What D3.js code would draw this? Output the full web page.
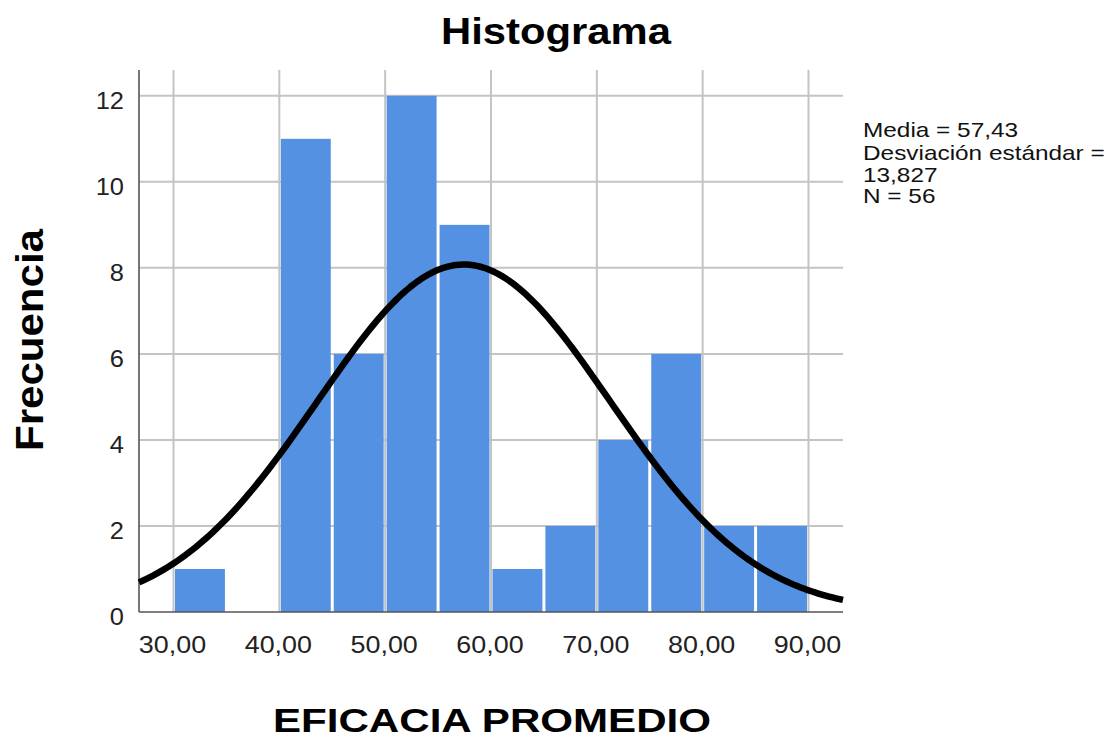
<!DOCTYPE html>
<html>
<head>
<meta charset="utf-8">
<script src="https://cdn.jsdelivr.net/npm/d3@7"></script>
<style>
  html, body { margin: 0; padding: 0; background: #fff; }
  svg { display: block; font-family: "Liberation Sans", Arial, sans-serif; }
</style>
</head>
<body>
<svg id="chart" width="1117" height="740"></svg>
<script>
// Histogram of EFICACIA PROMEDIO with fitted normal curve
const binEdges = [30, 35, 40, 45, 50, 55, 60, 65, 70, 75, 80, 85, 90];
const frequencies = [1, 0, 11, 6, 12, 9, 1, 2, 4, 6, 2, 2];
const xTicks = [30, 40, 50, 60, 70, 80, 90];
const yTicks = [0, 2, 4, 6, 8, 10, 12];
const mean = 57.43;
const stdDev = 13.827;
const count = 56;
const legendLines = ["Media = 57,43", "Desviación estándar =", "13,827", "N = 56"];

const bins = frequencies.map((f, i) => ({ x0: binEdges[i], x1: binEdges[i + 1], f }));
const binWidth = binEdges[1] - binEdges[0];

const svg = d3.select("#chart");
const plotLeft = 139, plotRight = 843, plotTop = 70, plotBottom = 612;

const x = d3.scaleLinear().domain([26.74, 93.26]).range([plotLeft, plotRight]);
const y = d3.scaleLinear().domain([0, 12.6]).range([plotBottom, plotTop]);

const es = d3.formatLocale({ decimal: ",", thousands: ".", grouping: [3], currency: ["", "€"] });
const fmt2 = es.format(".2f");

// widen glyphs horizontally to the chart's text proportions
function widen(sel, factor) {
  sel.each(function () {
    const w = this.getComputedTextLength();
    d3.select(this).attr("textLength", w * factor).attr("lengthAdjust", "spacingAndGlyphs");
  });
}

// grid
const grid = svg.append("g");
grid.selectAll("line.v").data(xTicks).join("line").attr("class", "v")
  .attr("x1", d => x(d)).attr("x2", d => x(d))
  .attr("y1", plotTop).attr("y2", plotBottom)
  .attr("stroke", "#c4c4c4").attr("stroke-width", 2);
grid.selectAll("line.h").data(yTicks.filter(d => d > 0)).join("line").attr("class", "h")
  .attr("x1", plotLeft).attr("x2", plotRight)
  .attr("y1", d => y(d)).attr("y2", d => y(d))
  .attr("stroke", "#c4c4c4").attr("stroke-width", 2);

// bars
svg.append("g").selectAll("rect").data(bins.filter(b => b.f > 0)).join("rect")
  .attr("x", d => x(d.x0) + 1.5)
  .attr("width", d => x(d.x1) - x(d.x0) - 3)
  .attr("y", d => y(d.f))
  .attr("height", d => y(0) - y(d.f))
  .attr("fill", "#5591e2");

// axis lines
svg.append("line").attr("x1", plotLeft).attr("x2", plotLeft).attr("y1", plotTop).attr("y2", plotBottom)
  .attr("stroke", "#555").attr("stroke-width", 1.6);
svg.append("line").attr("x1", plotLeft).attr("x2", plotRight).attr("y1", plotBottom).attr("y2", plotBottom)
  .attr("stroke", "#555").attr("stroke-width", 1.6);

// normal curve scaled to counts per bin
const scaleFactor = count * binWidth / (stdDev * Math.sqrt(2 * Math.PI));
const [d0, d1] = x.domain();
const curvePts = d3.range(0, 201).map(i => {
  const v = d0 + (d1 - d0) * i / 200;
  const z = (v - mean) / stdDev;
  return [v, scaleFactor * Math.exp(-0.5 * z * z)];
});
svg.append("path").datum(curvePts)
  .attr("d", d3.line().x(d => x(d[0])).y(d => y(d[1])))
  .attr("fill", "none").attr("stroke", "#000").attr("stroke-width", 6.5)
  .attr("stroke-linejoin", "round");

// tick labels
svg.append("g").selectAll("text").data(yTicks).join("text")
  .attr("x", 124).attr("y", d => y(d) + 13)
  .attr("text-anchor", "end").attr("font-size", 24).attr("fill", "#222")
  .text(d => d).call(widen, 1.06);
svg.append("g").selectAll("text").data(xTicks).join("text")
  .attr("x", d => x(d) - 1).attr("y", 653)
  .attr("text-anchor", "middle").attr("font-size", 24).attr("fill", "#222")
  .text(d => fmt2(d)).call(widen, 1.12);

// titles
svg.append("text").attr("x", 556).attr("y", 44)
  .attr("text-anchor", "middle").attr("font-size", 36).attr("font-weight", "bold")
  .text("Histograma").attr("textLength", 230).attr("lengthAdjust", "spacingAndGlyphs");
svg.append("text").attr("x", 492).attr("y", 732)
  .attr("text-anchor", "middle").attr("font-size", 33).attr("font-weight", "bold")
  .text("EFICACIA PROMEDIO").attr("textLength", 438).attr("lengthAdjust", "spacingAndGlyphs");
svg.append("text").attr("transform", "translate(43,340) rotate(-90)")
  .attr("text-anchor", "middle").attr("font-size", 38).attr("font-weight", "bold")
  .text("Frecuencia").attr("textLength", 222).attr("lengthAdjust", "spacingAndGlyphs");

// summary statistics
const legendY = [136.5, 160, 181.5, 203];
svg.append("g").selectAll("text").data(legendLines).join("text")
  .attr("x", 863).attr("y", (d, i) => legendY[i])
  .attr("font-size", 21).attr("fill", "#111")
  .text(d => d).call(widen, 1.16);
</script>
</body>
</html>
